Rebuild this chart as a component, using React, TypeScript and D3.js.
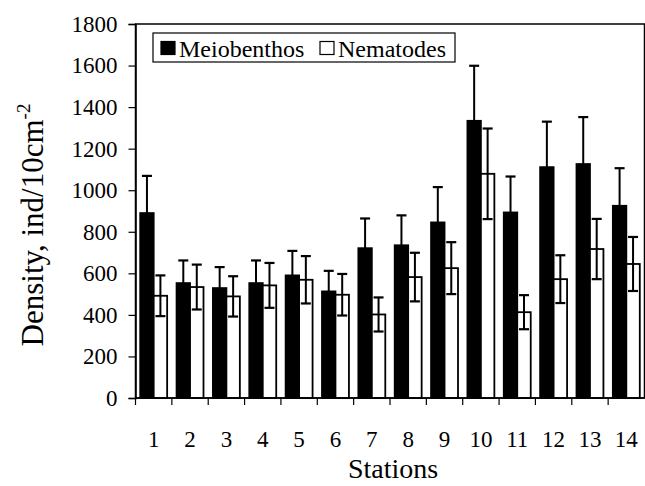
import React, { useRef, useEffect } from 'react';
import * as d3 from 'd3';

const stations = ['1', '2', '3', '4', '5', '6', '7', '8', '9', '10', '11', '12', '13', '14'];
const series = ['Meiobenthos', 'Nematodes'];
const meiobenthos = [890, 553, 529, 553, 590, 513, 721, 735, 845, 1334, 893, 1111, 1126, 925];
const meiobenthosErr = [179, 109, 101, 109, 118, 99, 143, 144, 170, 265, 173, 219, 226, 181];
const nematodes = [492, 534, 489, 542, 569, 497, 402, 582, 625, 1079, 413, 572, 717, 645];
const nematodesErr = [98, 108, 97, 108, 114, 100, 82, 117, 125, 218, 82, 115, 145, 130];
const yTicks = [0, 200, 400, 600, 800, 1000, 1200, 1400, 1600, 1800];

export default function App() {
  const d3svg = useRef(null);
  const width = 645;
  const height = 486;
  const margin = { top: 24, right: 0.5, bottom: 88, left: 135.5 };
  const font = '"Liberation Serif", "Times New Roman", serif';

  useEffect(() => {
    document.body.style.margin = '0';
    const svg = d3.select(d3svg.current);
    svg.selectAll('*').remove();

    const x = d3.scaleBand().domain(stations).range([margin.left, width - margin.right]);
    const xs = d3.scaleBand().domain(series).range([0, x.bandwidth()]).paddingOuter(0.35);
    const y = d3.scaleLinear().domain([0, 1800]).range([height - margin.bottom, margin.top]);

    const rows = stations.map((s, i) => ({
      s,
      bars: [
        { key: 'Meiobenthos', v: meiobenthos[i], e: meiobenthosErr[i], fill: '#000' },
        { key: 'Nematodes', v: nematodes[i], e: nematodesErr[i], fill: '#fff' },
      ],
    }));

    // frame
    svg.append('rect')
      .attr('x', margin.left).attr('y', margin.top)
      .attr('width', width - margin.left - margin.right)
      .attr('height', height - margin.top - margin.bottom)
      .attr('fill', 'none').attr('stroke', '#000').attr('stroke-width', 1.5);

    const g = svg.append('g');
    const grp = g.selectAll('g.st').data(rows).join('g')
      .attr('class', 'st')
      .attr('transform', d => `translate(${x(d.s)},0)`);

    grp.selectAll('rect').data(d => d.bars).join('rect')
      .attr('x', d => xs(d.key))
      .attr('y', d => y(d.v))
      .attr('width', xs.bandwidth())
      .attr('height', d => y(0) - y(d.v))
      .attr('fill', d => d.fill)
      .attr('stroke', '#000')
      .attr('stroke-width', 1.8);

    // error bars
    const eb = grp.selectAll('g.err').data(d => d.bars).join('g').attr('class', 'err');
    const cx = d => xs(d.key) + xs.bandwidth() / 2;
    const cap = 5;
    eb.append('line')
      .attr('x1', cx).attr('x2', cx)
      .attr('y1', d => y(d.v - d.e)).attr('y2', d => y(d.v + d.e))
      .attr('stroke', '#000').attr('stroke-width', 2);
    eb.append('line')
      .attr('x1', d => cx(d) - cap).attr('x2', d => cx(d) + cap)
      .attr('y1', d => y(d.v + d.e)).attr('y2', d => y(d.v + d.e))
      .attr('stroke', '#000').attr('stroke-width', 2.2);
    eb.append('line')
      .attr('x1', d => cx(d) - cap).attr('x2', d => cx(d) + cap)
      .attr('y1', d => y(d.v - d.e)).attr('y2', d => y(d.v - d.e))
      .attr('stroke', '#000').attr('stroke-width', 2.2);

    // y axis
    const yAxis = svg.append('g')
      .attr('transform', `translate(${margin.left},0)`)
      .call(d3.axisLeft(y).tickValues(yTicks).tickSize(7).tickPadding(11).tickFormat(d3.format('d')));
    yAxis.select('.domain').attr('stroke-width', 1.5);
    yAxis.selectAll('.tick line').attr('stroke-width', 1.2);
    yAxis.selectAll('text').style('font-family', font).style('font-size', '23px').attr('fill', '#000');

    // x axis: ticks at category boundaries
    const xAxis = svg.append('g').attr('transform', `translate(0,${y(0)})`);
    xAxis.append('line')
      .attr('x1', margin.left).attr('x2', width - margin.right)
      .attr('stroke', '#000').attr('stroke-width', 1.5);
    xAxis.selectAll('line.tk').data(stations).join('line')
      .attr('class', 'tk')
      .attr('x1', d => x(d)).attr('x2', d => x(d))
      .attr('y1', 0).attr('y2', 7)
      .attr('stroke', '#000').attr('stroke-width', 1.2);
    xAxis.selectAll('text').data(stations).join('text')
      .attr('x', d => x(d) + x.bandwidth() / 2)
      .attr('y', 49)
      .attr('text-anchor', 'middle')
      .style('font-family', font).style('font-size', '23px')
      .text(d => d);

    // axis titles
    svg.append('text')
      .attr('x', (margin.left + width - margin.right) / 2 + 3)
      .attr('y', 478)
      .attr('text-anchor', 'middle')
      .style('font-family', font).style('font-size', '28px')
      .text('Stations');

    const yt = svg.append('text')
      .attr('transform', 'translate(43,225) rotate(-90)')
      .attr('text-anchor', 'middle')
      .style('font-family', font).style('font-size', '31px');
    yt.append('tspan').text('Density, ind/10cm');
    yt.append('tspan').attr('dy', -13).style('font-size', '19px').text('-2');

    // legend
    const lg = svg.append('g');
    lg.append('rect')
      .attr('x', 153).attr('y', 33).attr('width', 302).attr('height', 29)
      .attr('fill', '#fff').attr('stroke', '#000').attr('stroke-width', 1.2);
    const items = [
      { key: series[0], fill: '#000', x: 161 },
      { key: series[1], fill: '#fff', x: 320 },
    ];
    lg.selectAll('rect.sw').data(items).join('rect')
      .attr('class', 'sw')
      .attr('x', d => d.x).attr('y', 41.5).attr('width', 14).attr('height', 13)
      .attr('fill', d => d.fill).attr('stroke', '#000').attr('stroke-width', 1.2);
    lg.selectAll('text.lt').data(items).join('text')
      .attr('class', 'lt')
      .attr('x', d => d.x + 18).attr('y', 56.5)
      .style('font-family', font).style('font-size', '24px')
      .text(d => d.key);
  }, []);

  return <svg ref={d3svg} width={width} height={height} style={{ display: 'block', background: '#fff' }} />;
}
